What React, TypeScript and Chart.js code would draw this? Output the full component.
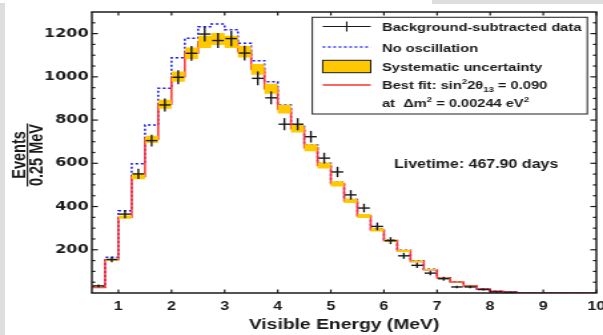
import React, { useEffect, useRef } from 'react';
import { Chart, registerables } from 'chart.js';
Chart.register(...registerables);

// ---------- data ----------
const BIN_LO = [0.5, 0.75, 1, 1.25, 1.5, 1.75, 2, 2.25, 2.5, 2.75, 3, 3.25, 3.5, 3.75, 4, 4.25, 4.5, 4.75, 5, 5.25, 5.5, 5.75, 6, 6.25, 6.5, 6.75, 7, 7.25, 7.5, 7.75, 8, 8.25, 8.5, 8.75, 9, 9.25, 9.5, 9.75];
const BIN_HALF = 0.125;
const X_END = 10;
const BEST_FIT = [26, 154, 351, 539, 711, 873, 1001, 1109, 1162, 1175, 1162, 1116, 1035, 945, 851, 760, 672, 590, 505, 426, 356, 292, 242, 195, 146, 108, 69, 51, 33, 18, 8, 5, 0, 0, 0, 0, 0, 0];
const NO_OSC = [28, 165, 380, 598, 777, 947, 1088, 1178, 1232, 1244, 1218, 1155, 1075, 977, 870, 778, 685, 600, 512, 432, 362, 297, 246, 198, 149, 110, 71, 52, 34, 18, 8, 5, 0, 0, 0, 0, 0, 0];
const SYST = [1, 4, 8, 13, 17, 21, 24, 27, 28, 28, 28, 27, 25, 23, 20, 18, 16, 14, 12, 10, 9, 7, 6, 5, 4, 3, 2, 1, 1, 0, 0, 0, 0, 0, 0, 0, 0, 0];
const DATA: (number | null)[] = [33, 155, 365, 551, 705, 870, 998, 1109, 1198, 1168, 1177, 1110, 993, 903, 781, 781, 723, 624, 560, 454, 393, 308, 242, 172, 128, 92, 66, 28, 28, 16, 5, 3, null, null, null, null, null, null];
const DATA_ERR: (number | null)[] = [6, 13, 19, 24, 27, 30, 32, 34, 35, 35, 35, 34, 32, 30, 28, 28, 27, 25, 24, 22, 20, 18, 16, 14, 12, 10, 9, 6, 6, 5, 3, 2, null, null, null, null, null, null];
const X_TICKS = [1, 2, 3, 4, 5, 6, 7, 8, 9, 10];
const Y_TICKS = [200, 400, 600, 800, 1000, 1200];

const LEGEND_LABELS = ['Background-subtracted data', 'No oscillation', 'Systematic uncertainty'];
const LIVETIME = 'Livetime: 467.90 days';
const X_TITLE = 'Visible Energy (MeV)';

// ---------- layout ----------
const FULL_W = 603;
const H = 335;
const W = 453;
const S = FULL_W / W;

const YELLOW = '#FFC800';
const RED = '#FF3030';
const BLUE = '#1414FF';
const INK = '#1a1a1a';
const SANS = '"Liberation Sans", Arial, sans-serif';

const steps = (vals: number[]) => {
  const p = BIN_LO.map((x, i) => ({ x, y: vals[i] }));
  p.push({ x: X_END, y: vals[vals.length - 1] });
  return p;
};

function line(ctx: CanvasRenderingContext2D, x1: number, y1: number, x2: number, y2: number) {
  ctx.beginPath();
  ctx.moveTo(x1, y1);
  ctx.lineTo(x2, y2);
  ctx.stroke();
}

function rich(ctx: CanvasRenderingContext2D, parts: [string, number][], x: number, y: number, fs: number) {
  let cx = x;
  for (const [t, m] of parts) {
    ctx.font = `bold ${m === 0 ? fs : fs * 0.66}px ${SANS}`;
    const dy = m === 1 ? -4.6 : m === -1 ? 2.6 : 0;
    ctx.fillText(t, cx, y + dy);
    cx += ctx.measureText(t).width;
  }
}

const overlay = {
  id: 'overlay',
  afterDatasetsDraw(chart: any) {
    const { ctx, scales } = chart;
    const xs = scales.x, ys = scales.y;
    ctx.save();
    ctx.strokeStyle = INK;
    ctx.lineWidth = 1.4;
    DATA.forEach((v, i) => {
      if (v === null) return;
      const e = DATA_ERR[i] || 0;
      const c = BIN_LO[i] + BIN_HALF;
      const px = xs.getPixelForValue(c);
      const py = ys.getPixelForValue(v);
      line(ctx, xs.getPixelForValue(c - 0.11), py, xs.getPixelForValue(c + 0.11), py);
      line(ctx, px, ys.getPixelForValue(v - e), px, ys.getPixelForValue(v + e));
    });
    ctx.restore();
  },
  afterDraw(chart: any) {
    const { ctx, chartArea, scales } = chart;
    const { left, right, top, bottom } = chartArea;
    const xs = scales.x, ys = scales.y;
    ctx.save();
    ctx.strokeStyle = INK;
    // frame
    ctx.lineWidth = 1.7;
    line(ctx, left - 0.7, top, right + 0.7, top);
    line(ctx, left - 0.7, bottom, right + 0.7, bottom);
    ctx.lineWidth = 1.45;
    line(ctx, left, top, left, bottom);
    line(ctx, right, top, right, bottom);
    // ticks (inward)
    ctx.lineWidth = 1.2;
    for (let v = 50; v < 1300; v += 50) {
      const py = ys.getPixelForValue(v);
      const len = v % 200 === 0 ? 4.5 : 2.6;
      line(ctx, left, py, left + len, py);
      line(ctx, right - len, py, right, py);
    }
    ctx.lineWidth = 1.2;
    X_TICKS.forEach((v) => {
      const px = xs.getPixelForValue(v);
      line(ctx, px, bottom, px, bottom - 3.5);
      line(ctx, px, top, px, top + 3.5);
    });

    // legend
    const LX0 = 234.6, LX1 = 441.2, LY0 = 17.3, LY1 = 114;
    ctx.fillStyle = '#fff';
    ctx.fillRect(LX0, LY0, LX1 - LX0, LY1 - LY0);
    ctx.strokeStyle = '#333';
    ctx.lineWidth = 1.1;
    ctx.strokeRect(LX0, LY0, LX1 - LX0, LY1 - LY0);
    const sx0 = 242.4, sx1 = 278.5, sxc = (sx0 + sx1) / 2;
    const tx = 287;
    const fs = 11;
    // row1
    ctx.strokeStyle = INK;
    ctx.lineWidth = 1.1;
    line(ctx, sx0, 26.5, sx1, 26.5);
    line(ctx, sxc, 21.5, sxc, 31.5);
    // row2
    ctx.strokeStyle = BLUE;
    ctx.lineWidth = 1.3;
    ctx.setLineDash([2, 2]);
    line(ctx, sx0, 47, sx1, 47);
    ctx.setLineDash([]);
    // row3
    ctx.fillStyle = YELLOW;
    ctx.fillRect(sx0, 60.3, sx1 - sx0, 12.4);
    ctx.strokeStyle = INK;
    ctx.lineWidth = 1;
    ctx.strokeRect(sx0, 60.3, sx1 - sx0, 12.4);
    // row4
    ctx.strokeStyle = RED;
    ctx.lineWidth = 1.3;
    line(ctx, sx0, 85, sx1, 85);

    ctx.fillStyle = INK;
    ctx.textAlign = 'left';
    ctx.textBaseline = 'alphabetic';
    ctx.font = `bold ${fs}px ${SANS}`;
    ctx.fillText(LEGEND_LABELS[0], tx, 30.8);
    ctx.fillText(LEGEND_LABELS[1], tx, 51.5);
    ctx.fillText(LEGEND_LABELS[2], tx, 70.7);
    rich(ctx, [['Best fit: sin', 0], ['2', 1], ['2\u03B8', 0], ['13', -1], [' = 0.090', 0]], tx, 89, fs);
    rich(ctx, [['at  \u0394m', 0], ['2', 1], [' = 0.00244 eV', 0], ['2', 1]], tx, 106.5, fs);

    // livetime
    ctx.font = `bold 12px ${SANS}`;
    ctx.fillText(LIVETIME, 296, 168.3);

    // y title (fraction)
    ctx.save();
    ctx.translate(20.3, 155);
    ctx.rotate(-Math.PI / 2);
    ctx.font = `bold 14.5px ${SANS}`;
    ctx.textAlign = 'center';
    ctx.fillText('Events', 0, -1.8);
    ctx.fillText('0.25 MeV', 0, 11.8);
    ctx.strokeStyle = INK;
    ctx.lineWidth = 1.2;
    line(ctx, -31.5, 0.3, 31.5, 0.3);
    ctx.restore();

    ctx.restore();
  },
};

export default function App() {
  const ref = useRef<HTMLCanvasElement>(null);
  useEffect(() => {
    const hi = BEST_FIT.map((v, i) => v + SYST[i]);
    const lo = BEST_FIT.map((v, i) => Math.max(0, v - SYST[i]));
    const chart = new Chart(ref.current as HTMLCanvasElement, {
      type: 'line',
      data: {
        datasets: [
          { label: 'sys-hi', data: steps(hi), stepped: true, borderWidth: 0, pointRadius: 0, fill: false, borderColor: 'rgba(0,0,0,0)' },
          { label: LEGEND_LABELS[2], data: steps(lo), stepped: true, borderWidth: 0, pointRadius: 0, fill: '-1', backgroundColor: YELLOW, borderColor: 'rgba(0,0,0,0)' },
          { label: 'Best fit', data: steps(BEST_FIT), stepped: true, borderWidth: 1.5, pointRadius: 0, borderColor: RED, fill: false },
          { label: LEGEND_LABELS[1], data: steps(NO_OSC), stepped: true, borderWidth: 1.5, pointRadius: 0, borderColor: BLUE, borderDash: [2, 2], fill: false },
        ],
      } as any,
      options: {
        animation: false,
        responsive: false,
        devicePixelRatio: 1,
        events: [],
        layout: { padding: { top: 12, right: 5, left: 0, bottom: 0 } },
        scales: {
          x: {
            type: 'linear',
            min: 0.5,
            max: 10,
            afterBuildTicks: (axis: any) => { axis.ticks = X_TICKS.map((value) => ({ value })); },
            afterFit: (axis: any) => { axis.height = 42; axis.paddingLeft = 0; axis.paddingRight = 0; },
            grid: { display: false, drawTicks: false },
            border: { display: false },
            ticks: {
              color: INK,
              padding: 6,
              maxRotation: 0,
              autoSkip: false,
              callback: (v: any) => String(v),
              font: { family: 'Liberation Sans', weight: 'bold', size: 12 },
            },
            title: {
              display: true,
              text: X_TITLE,
              color: INK,
              font: { family: 'Liberation Sans', weight: 'bold', size: 14.5 },
              padding: { top: 0, bottom: 1 },
            },
          },
          y: {
            type: 'linear',
            min: 0,
            max: 1300,
            afterBuildTicks: (axis: any) => { axis.ticks = Y_TICKS.map((value) => ({ value })); },
            afterFit: (axis: any) => { axis.width = 69; axis.paddingTop = 0; axis.paddingBottom = 0; },
            grid: { display: false, drawTicks: false },
            border: { display: false },
            ticks: {
              color: INK,
              padding: 2.5,
              callback: (v: any) => String(v),
              font: { family: 'DejaVu Sans', weight: 'bold', size: 12 },
            },
          },
        },
        plugins: { legend: { display: false }, tooltip: { enabled: false } },
      } as any,
      plugins: [overlay],
    });
    return () => chart.destroy();
  }, []);

  return (
    <div style={{ position: 'fixed', left: 0, top: 0, width: FULL_W, height: H, background: '#fff', overflow: 'hidden' }}>
      <div style={{ position: 'absolute', left: 0, top: 0, width: W, height: H, transform: `scaleX(${S})`, transformOrigin: '0 0' }}>
        <canvas ref={ref} width={W} height={H} style={{ display: 'block' }} />
      </div>
      <div style={{ position: 'absolute', left: 0, top: 3, width: 5, height: H - 3, background: '#dedede' }} />
      <div style={{ position: 'absolute', left: 432, top: 0, width: FULL_W - 432, height: 4, background: '#dedede' }} />
    </div>
  );
}
